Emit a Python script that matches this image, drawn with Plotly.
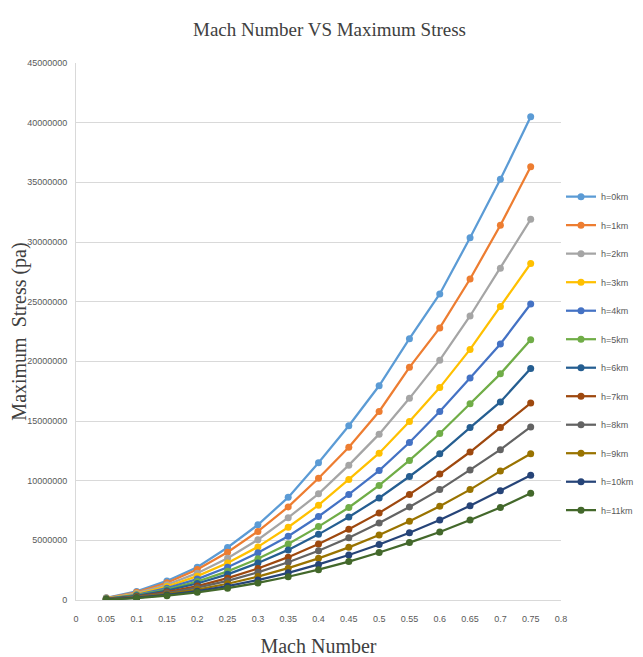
import plotly.graph_objects as go

mach = [0.05, 0.1, 0.15, 0.2, 0.25, 0.3, 0.35, 0.4, 0.45, 0.5, 0.55, 0.6, 0.65, 0.7, 0.75]

h0 = [180000, 720000, 1600000, 2750000, 4400000, 6300000, 8600000, 11500000, 14600000, 17950000, 21900000, 25650000, 30350000, 35250000, 40500000]
h1 = [160000, 650000, 1450000, 2550000, 4000000, 5750000, 7800000, 10200000, 12800000, 15800000, 19500000, 22800000, 26900000, 31400000, 36300000]
h2 = [140000, 570000, 1280000, 2250000, 3500000, 5050000, 6900000, 8900000, 11300000, 13900000, 16900000, 20100000, 23800000, 27800000, 31900000]
h3 = [130000, 500000, 1130000, 2000000, 3100000, 4450000, 6100000, 7950000, 10100000, 12300000, 14950000, 17800000, 21000000, 24600000, 28200000]
h4 = [110000, 440000, 990000, 1750000, 2750000, 3950000, 5350000, 7000000, 8850000, 10850000, 13200000, 15800000, 18600000, 21450000, 24800000]
h5 = [100000, 390000, 870000, 1550000, 2400000, 3450000, 4700000, 6150000, 7750000, 9600000, 11700000, 13950000, 16450000, 18950000, 21800000]
h6 = [90000, 350000, 780000, 1380000, 2150000, 3100000, 4200000, 5500000, 6950000, 8550000, 10350000, 12250000, 14450000, 16600000, 19400000]
h7 = [70000, 290000, 660000, 1170000, 1830000, 2640000, 3590000, 4690000, 5930000, 7300000, 8850000, 10550000, 12400000, 14450000, 16500000]
h8 = [60000, 260000, 580000, 1030000, 1610000, 2320000, 3160000, 4130000, 5220000, 6450000, 7800000, 9250000, 10900000, 12600000, 14500000]
h9 = [50000, 220000, 490000, 870000, 1360000, 1960000, 2670000, 3490000, 4410000, 5450000, 6600000, 7850000, 9250000, 10800000, 12250000]
h10 = [50000, 190000, 420000, 740000, 1160000, 1670000, 2280000, 2980000, 3770000, 4650000, 5630000, 6700000, 7900000, 9150000, 10450000]
h11 = [40000, 160000, 360000, 640000, 990000, 1430000, 1950000, 2540000, 3220000, 3980000, 4810000, 5700000, 6700000, 7750000, 8950000]

series_names = ["h=0km", "h=1km", "h=2km", "h=3km", "h=4km", "h=5km",
                "h=6km", "h=7km", "h=8km", "h=9km", "h=10km", "h=11km"]
series_values = [h0, h1, h2, h3, h4, h5, h6, h7, h8, h9, h10, h11]
colors = ["#5B9BD5", "#ED7D31", "#A5A5A5", "#FFC000", "#4472C4", "#70AD47",
          "#255E91", "#9E480E", "#636363", "#997300", "#264478", "#43682B"]

x_ticks = [0, 0.05, 0.1, 0.15, 0.2, 0.25, 0.3, 0.35, 0.4, 0.45, 0.5, 0.55, 0.6, 0.65, 0.7, 0.75, 0.8]
x_ticklabels = ["0", "0.05", "0.1", "0.15", "0.2", "0.25", "0.3", "0.35", "0.4", "0.45", "0.5", "0.55", "0.6", "0.65", "0.7", "0.75", "0.8"]
y_ticks = [0, 5000000, 10000000, 15000000, 20000000, 25000000, 30000000, 35000000, 40000000, 45000000]
y_ticklabels = [str(v) for v in y_ticks]

fig = go.Figure()
for name, vals, col in zip(series_names, series_values, colors):
    fig.add_trace(go.Scatter(
        x=mach, y=vals, name=name, mode="lines+markers",
        line=dict(color=col, width=2.25),
        marker=dict(color=col, size=7, symbol="circle"),
        legendgroup=name,
    ))

tick_font = dict(family="Liberation Sans, Arial, sans-serif", size=9, color="#595959")
serif = "Liberation Serif, Times New Roman, serif"

fig.update_layout(
    width=643, height=657,
    margin=dict(l=68, r=70, t=55, b=65),
    paper_bgcolor="white", plot_bgcolor="white",
    title=dict(text="Mach Number VS Maximum Stress", x=0.5, xanchor="center",
               y=0.968, yanchor="middle",
               font=dict(family=serif, size=19, color="#404040")),
    showlegend=True,
    legend=dict(x=1.0, xanchor="left", y=0.778, yanchor="top",
                font=dict(family="Liberation Sans, Arial, sans-serif", size=9, color="#595959"),
                tracegroupgap=9.5, itemwidth=30, bgcolor="rgba(0,0,0,0)"),
    xaxis=dict(range=[0, 0.8], tickmode="array", tickvals=x_ticks, ticktext=x_ticklabels,
               showgrid=False, zeroline=False, showline=True, linecolor="#D9D9D9", linewidth=1,
               ticks="", tickfont=tick_font, ticklabelstandoff=10, automargin=False,
               title=dict(text="Mach Number", font=dict(family=serif, size=20, color="#404040"), standoff=16)),
    yaxis=dict(range=[0, 45000000], tickmode="array", tickvals=y_ticks, ticktext=y_ticklabels,
               showgrid=True, gridcolor="#D9D9D9", gridwidth=1, zeroline=False,
               showline=True, linecolor="#D9D9D9", linewidth=1,
               ticks="", tickfont=tick_font, ticklabelstandoff=6, automargin=False,
               title=dict(text="Maximum  Stress (pa)", font=dict(family=serif, size=20, color="#404040"), standoff=6)),
)

fig.write_html("out.html")
